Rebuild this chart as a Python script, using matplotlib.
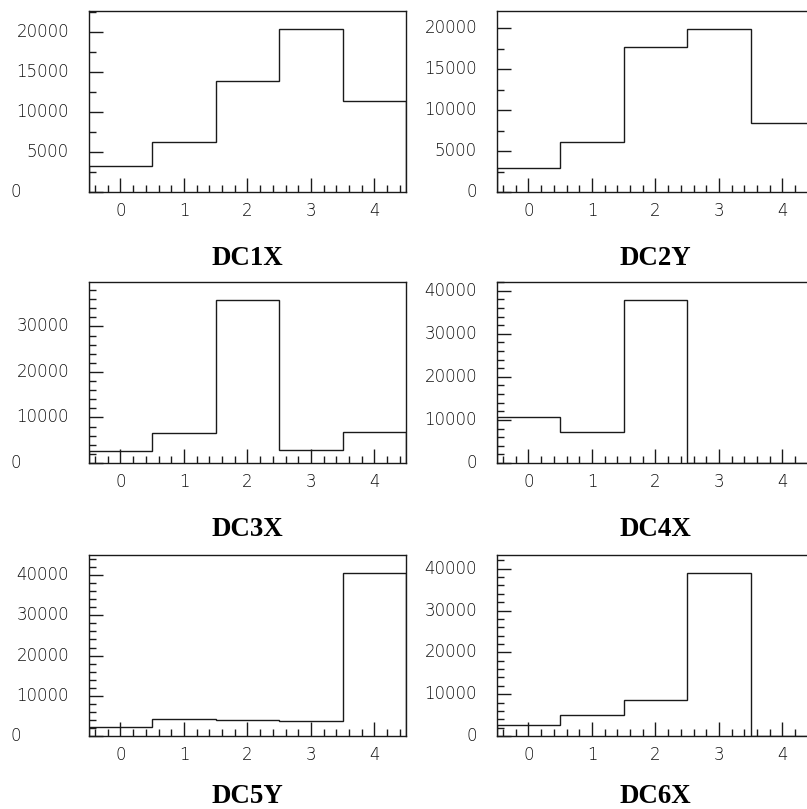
import numpy as np
import matplotlib
matplotlib.use("Agg")
import matplotlib.pyplot as plt
from matplotlib.ticker import MultipleLocator, NullFormatter
from matplotlib.transforms import blended_transform_factory

# Hit counts per channel (bins centred on 0..4) for each drift-chamber plane
bin_centers = [0, 1, 2, 3, 4]
dc1x = [3290, 6290, 13960, 20420, 11375]
dc2y = [2895, 6150, 17750, 19910, 8390]
dc3x = [2560, 6690, 35830, 2940, 6840]
dc4x = [10770, 7260, 37870, 0, 0]
dc5y = [2320, 4230, 3900, 3650, 40550]
dc6x = [2630, 5100, 8540, 39000, 0]

titles = ["DC1X", "DC2Y", "DC3X", "DC4X", "DC5Y", "DC6X"]
series = [dc1x, dc2y, dc3x, dc4x, dc5y, dc6x]
y_major = [5000, 5000, 10000, 10000, 10000, 10000]
y_minor = [2500, 2500, 2000, 2000, 2000, 2000]

W, H = 807, 809
fig = plt.figure(figsize=(W / 100, H / 100), dpi=100)

ax_w, ax_h = 317.5, 181.0
col_left = [88.7, 496.7]
row_bottom = [192.0, 463.0, 736.0]
title_drop = [73.3, 73.0, 67.0]

line_col = "#1a1a1a"
label_font = dict(family="DejaVu Sans", fontweight="light", fontsize=12, color="#111111")

edges = np.array(bin_centers + [bin_centers[-1] + 1], dtype=float) - 0.5

for i, (vals, title) in enumerate(zip(series, titles)):
    r, c = divmod(i, 2)
    left = col_left[c]
    bottom = row_bottom[r]
    ax = fig.add_axes([left / W, 1 - bottom / H, ax_w / W, ax_h / H])

    ax.stairs(vals, edges, baseline=0, color=line_col, linewidth=1.0)

    ymax = 1.11 * max(vals)
    ax.set_xlim(edges[0], edges[-1])
    ax.set_ylim(0, ymax)

    for sp in ax.spines.values():
        sp.set_color(line_col)
        sp.set_linewidth(1.0)

    ax.xaxis.set_major_locator(MultipleLocator(1))
    ax.xaxis.set_minor_locator(MultipleLocator(0.2))
    ax.yaxis.set_major_locator(MultipleLocator(y_major[i]))
    ax.yaxis.set_minor_locator(MultipleLocator(y_minor[i]))
    ax.yaxis.set_major_formatter(NullFormatter())

    ax.tick_params(axis="both", which="major", direction="in", length=10,
                   width=1.0, color=line_col, top=False, right=False)
    ax.tick_params(axis="both", which="minor", direction="in", length=5,
                   width=1.0, color=line_col, top=False, right=False)
    ax.tick_params(axis="x", which="major", pad=7, labelsize=12,
                   labelcolor="#111111")
    for lab in ax.get_xticklabels():
        lab.set_fontfamily("DejaVu Sans")
        lab.set_fontweight("light")

    # y-axis numbers drawn as text so the zero label can sit at the far left
    trans = blended_transform_factory(ax.transAxes, ax.transData)
    x_right = -19.7 / ax_w
    x_left = -78.0 / ax_w
    v = 0
    while v <= ymax:
        txt = f"{v:d}"
        if v == 0 and c == 0:
            ax.text(x_left, v, txt, transform=trans, ha="left", va="center",
                    **label_font)
        else:
            ax.text(x_right, v, txt, transform=trans, ha="right", va="center",
                    **label_font)
        v += y_major[i]

    ax.text(0.5, -title_drop[r] / ax_h, title, transform=ax.transAxes, ha="center",
            va="baseline", family="Liberation Serif", fontweight="bold",
            fontsize=19.4, color="black")

fig.savefig("out.png", dpi=100)
